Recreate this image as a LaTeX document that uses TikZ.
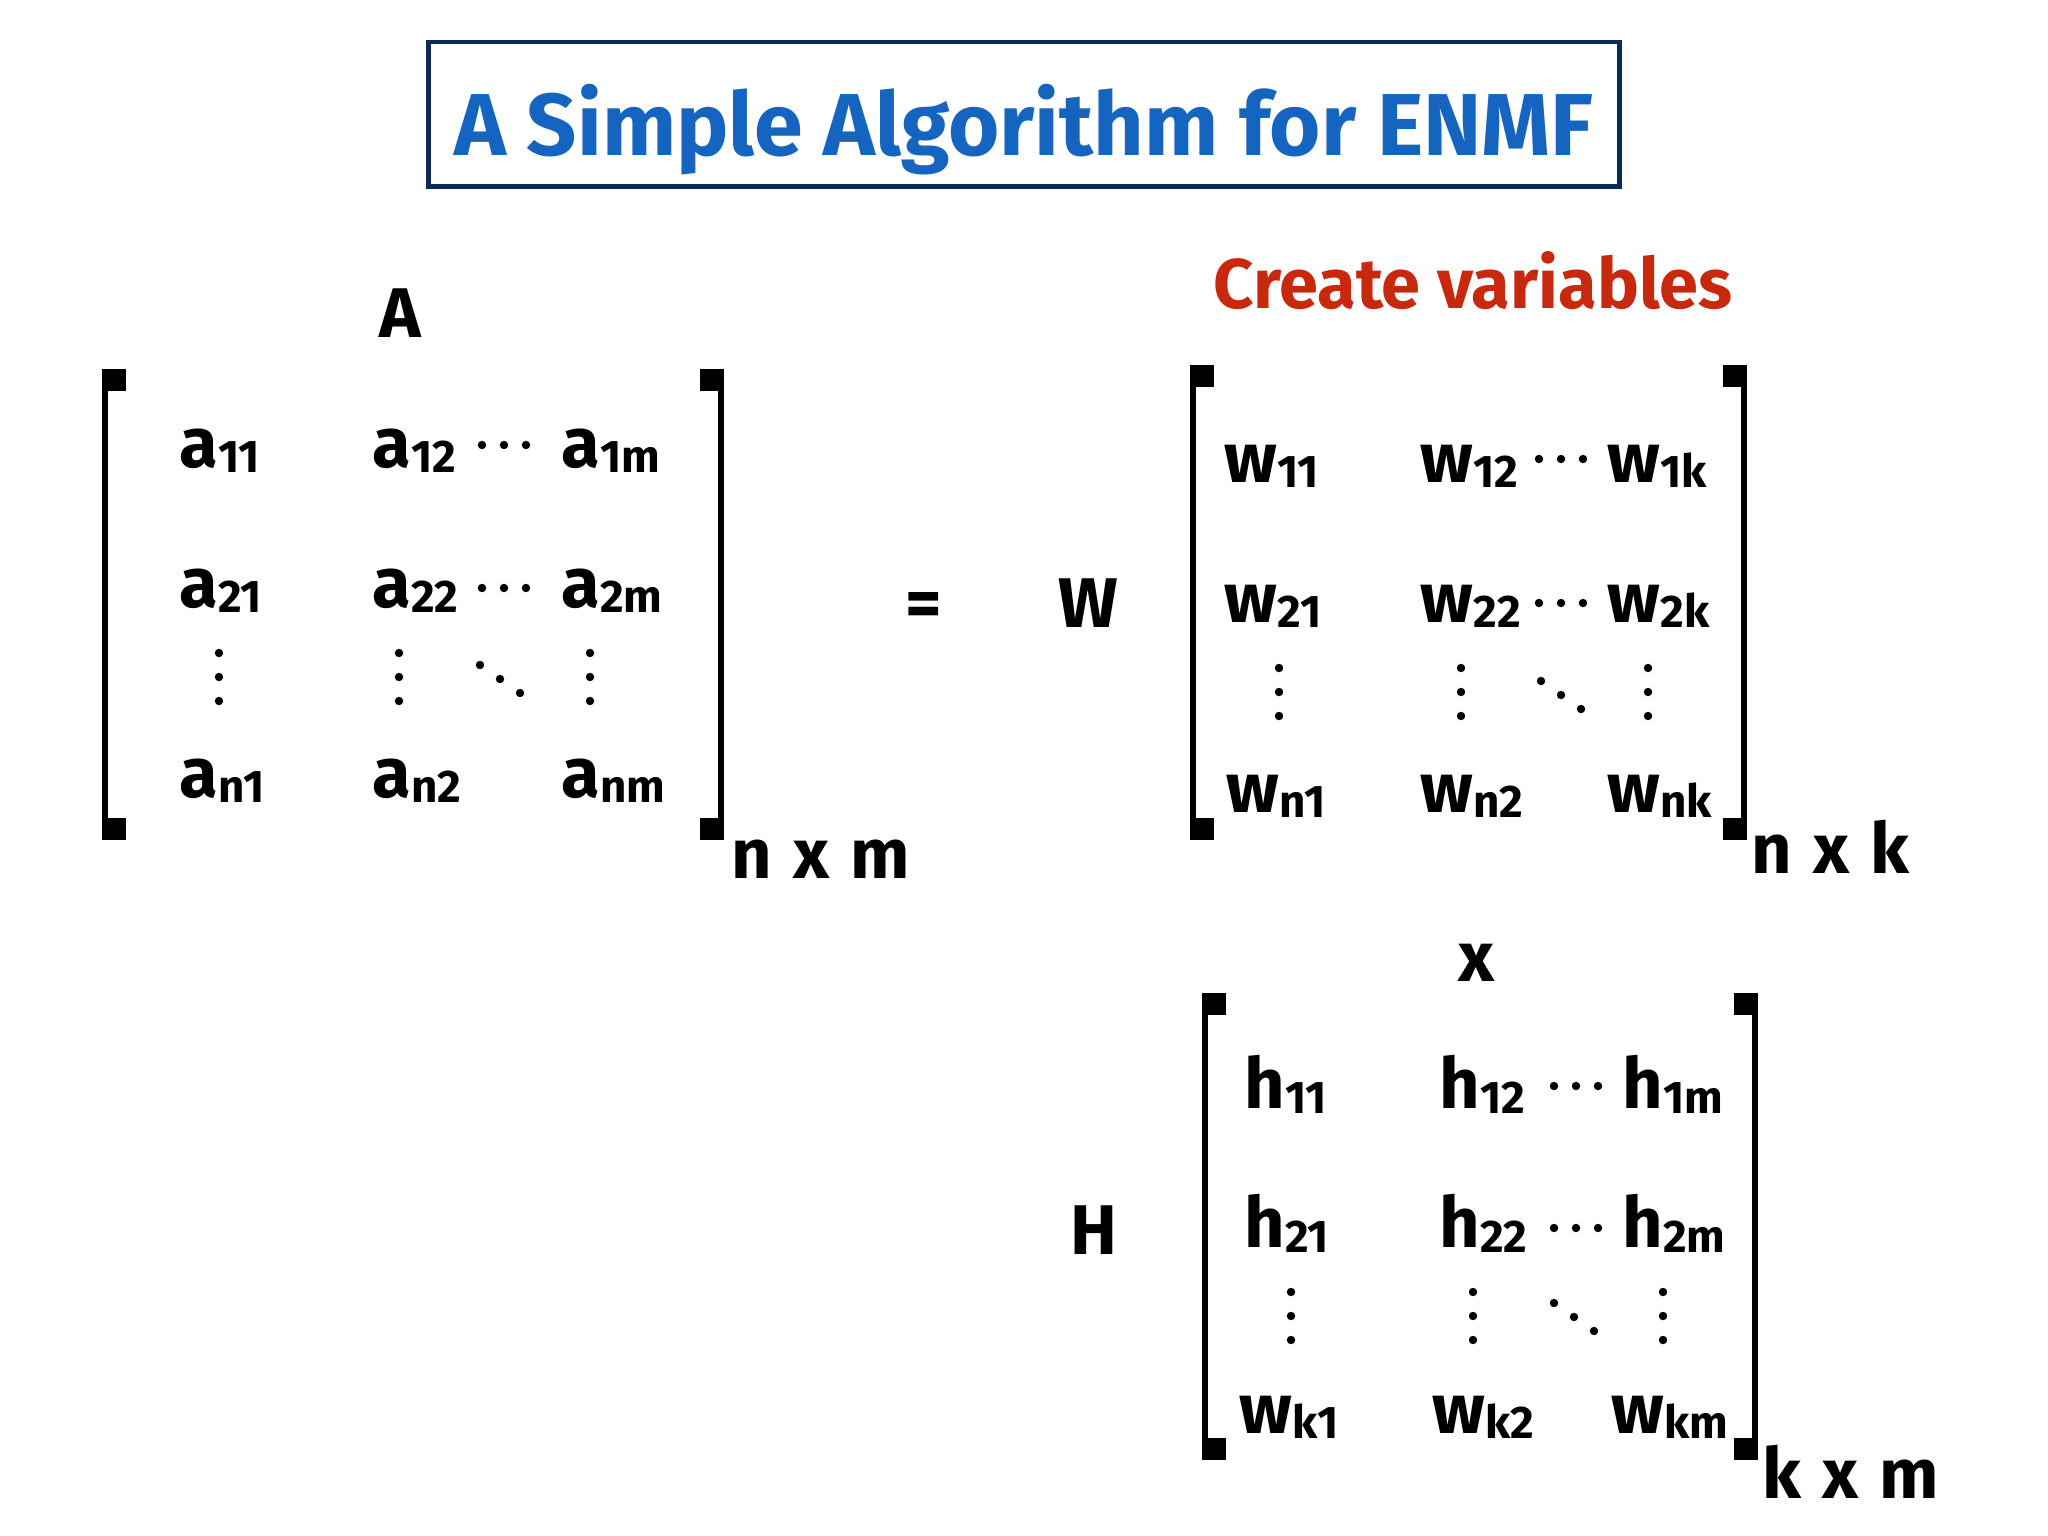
\documentclass[tikz,border=0pt]{standalone}
\usepackage{fontspec}
\setmainfont{Fira Sans}
\definecolor{titleblue}{HTML}{1565C0}
\definecolor{titlenavy}{HTML}{0B2A5A}
\definecolor{varred}{HTML}{C8280E}
\newcommand{\ix}[1]{\raisebox{-1.5pt}{\fontsize{13}{13}\selectfont #1}}
\newcommand{\by}{\hspace{0.3em}x\hspace{0.3em}}
% bracket pieces: x of the bar, top, bottom
\newcommand{\lbrk}[3]{%
  \fill (#1-3,#2) rectangle (#1+3,#3);
  \fill (#1-3,#2) rectangle (#1+21,#2+22);
  \fill (#1-3,#3-22) rectangle (#1+21,#3);}
\newcommand{\rbrk}[3]{%
  \fill (#1-3,#2) rectangle (#1+3,#3);
  \fill (#1-21,#2) rectangle (#1+3,#2+22);
  \fill (#1-21,#3-22) rectangle (#1+3,#3);}
\newcommand{\hdts}[2]{\foreach \i in {0,1,2} \fill (#1+22*\i,#2) circle (1.2pt);}
\newcommand{\vdts}[2]{\foreach \i in {0,1,2} \fill (#1,#2+24*\i) circle (1.2pt);}
\newcommand{\ddts}[2]{\foreach \i in {0,1,2} \fill (#1+20*\i,#2+14*\i) circle (1.2pt);}
\tikzset{
  entry/.style={anchor=base west, inner sep=0pt, font=\fontsize{20}{20}\selectfont\bfseries},
  bigsym/.style={anchor=base, inner sep=0pt, font=\fontsize{20}{20}\selectfont\bfseries},
  dimlbl/.style={anchor=base west, inner sep=0pt, font=\fontsize{20}{20}\selectfont\bfseries},
  titlebox/.style={draw=titlenavy, line width=1.4pt, minimum width=11.91cm, minimum height=1.44cm, inner sep=0pt},
}
\begin{document}
\begin{tikzpicture}[x=0.01cm, y=-0.01cm]
\useasboundingbox (0,0) rectangle (2048,1536);
% title
\node[titlebox] (title) at (1024,114) {};
\node[anchor=base, inner sep=0pt, text=titleblue, font=\fontsize{25}{25}\selectfont\bfseries] (titletxt) at (1024,155) {A Simple Algorithm for ENMF};
\node[anchor=base, inner sep=0pt, text=varred, font=\fontsize{20}{20}\selectfont\bfseries] (create) at (1473,308) {Create variables};

% matrix A
\node[bigsym] (Albl) at (400,337) {A};
\lbrk{105}{369}{840}
\rbrk{721}{369}{840}
\node[entry] (a11) at (179,467) {a\ix{11}};
\node[entry] (a12) at (372,467) {a\ix{12}};
\node[entry] (a1m) at (561,467) {a\ix{1m}};
\node[entry] (a21) at (179,607) {a\ix{21}};
\node[entry] (a22) at (372,607) {a\ix{22}};
\node[entry] (a2m) at (561,607) {a\ix{2m}};
\node[entry] (an1) at (179,797) {a\ix{n1}};
\node[entry] (an2) at (372,797) {a\ix{n2}};
\node[entry] (anm) at (561,797) {a\ix{nm}};
\hdts{482}{445}
\hdts{482}{588}
\vdts{219}{653} \vdts{399}{653} \vdts{590}{653}
\ddts{480}{665}
\node[dimlbl] (Adim) at (731,878) {n\by m};

\node[bigsym] (eq) at (924,627) {=};
\node[bigsym] (Wlbl) at (1088,627) {W};

% matrix W
\lbrk{1193}{365}{840}
\rbrk{1744}{365}{840}
\node[entry] (w11) at (1224,482) {w\ix{11}};
\node[entry] (w12) at (1420,482) {w\ix{12}};
\node[entry] (w1k) at (1607,482) {w\ix{1k}};
\node[entry] (w21) at (1224,622) {w\ix{21}};
\node[entry] (w22) at (1420,622) {w\ix{22}};
\node[entry] (w2k) at (1607,622) {w\ix{2k}};
\node[entry] (wn1) at (1226,812) {w\ix{n1}};
\node[entry] (wn2) at (1420,812) {w\ix{n2}};
\node[entry] (wnk) at (1607,812) {w\ix{nk}};
\hdts{1539}{459}
\hdts{1539}{603}
\vdts{1279}{668} \vdts{1461}{668} \vdts{1648}{668}
\ddts{1541}{681}
\node[dimlbl] (Wdim) at (1751,873) {n\by k};

\node[bigsym] (times) at (1476,981) {x};
\node[bigsym] (Hlbl) at (1094,1254) {H};

% matrix H
\lbrk{1205}{993}{1460}
\rbrk{1755}{993}{1460}
\node[entry] (h11) at (1244,1108) {h\ix{11}};
\node[entry] (h12) at (1439,1108) {h\ix{12}};
\node[entry] (h1m) at (1622,1108) {h\ix{1m}};
\node[entry] (h21) at (1244,1247) {h\ix{21}};
\node[entry] (h22) at (1439,1247) {h\ix{22}};
\node[entry] (h2m) at (1622,1247) {h\ix{2m}};
\node[entry] (wk1) at (1239,1433) {w\ix{k1}};
\node[entry] (wk2) at (1432,1433) {w\ix{k2}};
\node[entry] (wkm) at (1611,1433) {w\ix{km}};
\hdts{1554}{1086}
\hdts{1554}{1228}
\vdts{1291}{1292} \vdts{1473}{1292} \vdts{1663}{1292}
\ddts{1554}{1303}
\node[dimlbl] (Hdim) at (1762,1498) {k\by m};
\end{tikzpicture}
\end{document}
